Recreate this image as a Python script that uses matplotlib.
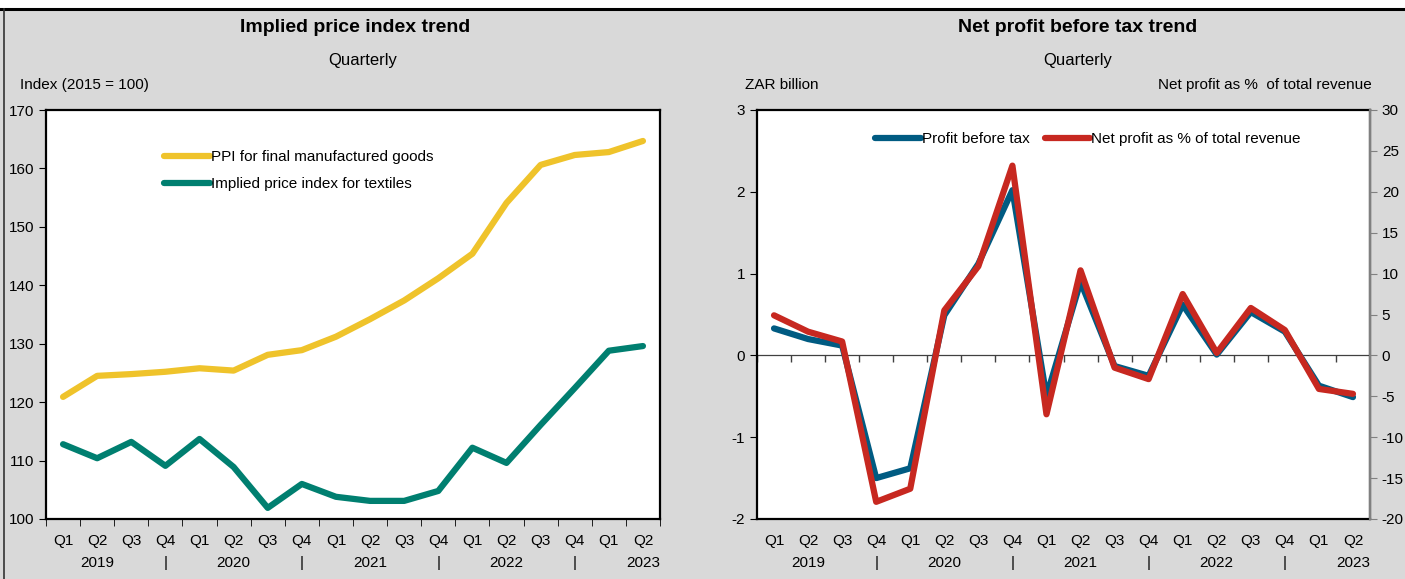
import matplotlib
matplotlib.use("Agg")
import matplotlib.pyplot as plt
import matplotlib.transforms as mtransforms
from matplotlib.lines import Line2D
import numpy as np

plt.rcParams['font.family'] = ['Liberation Sans Narrow', 'Liberation Sans', 'DejaVu Sans']
plt.rcParams['axes.unicode_minus'] = False

# data
quarters = ["Q1", "Q2", "Q3", "Q4"] * 4 + ["Q1", "Q2"]
years = ["2019", "2020", "2021", "2022", "2023"]

ppi = [120.9, 124.5, 124.8, 125.2, 125.8, 125.4, 128.1, 128.9, 131.2,
       134.2, 137.4, 141.2, 145.4, 154.1, 160.6, 162.3, 162.8, 164.7]
textiles = [112.8, 110.4, 113.2, 109.1, 113.7, 108.9, 101.9, 106.0, 103.8,
            103.1, 103.1, 104.8, 112.2, 109.6, 116.1, 122.4, 128.8, 129.6]

profit = [0.33, 0.20, 0.12, -1.50, -1.38, 0.49, 1.12, 2.02, -0.50,
          0.90, -0.13, -0.25, 0.62, 0.01, 0.53, 0.29, -0.37, -0.51]
margin = [4.9, 2.9, 1.7, -17.9, -16.3, 5.5, 10.9, 23.2, -7.2,
          10.4, -1.5, -2.9, 7.5, 0.3, 5.8, 3.1, -4.1, -4.7]

BG = "#D9D9D9"
YELLOW = "#EFC32B"
TEAL = "#007F70"
BLUE = "#005B82"
RED = "#C72820"

W, H = 1405, 579
fig = plt.figure(figsize=(W / 100, H / 100), dpi=100, facecolor=BG)

# white strip + frame lines
fig.patches.append(plt.Rectangle((0, 1 - 8 / H), 1, 8 / H, transform=fig.transFigure,
                                 facecolor="white", edgecolor="none", zorder=0))
fig.lines.append(Line2D([0, 1], [1 - 8.5 / H, 1 - 8.5 / H], transform=fig.transFigure,
                        color="black", lw=2.2))
fig.lines.append(Line2D([3.5 / W, 3.5 / W], [0, 1 - 8.5 / H], transform=fig.transFigure,
                        color="#333333", lw=1.2))

x = np.arange(len(quarters))
bounds = np.arange(len(quarters) + 1) - 0.5
line_kw = dict(lw=4.5, solid_capstyle="round", solid_joinstyle="round")


def px_axes(l, r, t, b):
    return [l / W, 1 - b / H, (r - l) / W, (b - t) / H]


def quarter_axis(ax):
    ax.set_xlim(-0.5, len(quarters) - 0.5)
    ax.set_xticks(x)
    ax.set_xticklabels(quarters, fontsize=11)
    ax.tick_params(axis="x", which="major", length=0, pad=11)
    trans = mtransforms.blended_transform_factory(ax.transData, ax.transAxes)
    for i, yr in enumerate(years):
        ax.text(4 * i + 1, -0.09, yr, transform=trans, ha="center", va="top", fontsize=11)
        if i < len(years) - 1:
            ax.text(4 * i + 3, -0.09, "|", transform=trans, ha="center", va="top", fontsize=11)


# ---- left chart
ax1 = fig.add_axes(px_axes(46, 660, 110, 519))
ax1.set_facecolor("white")
ax1.plot(x, ppi, color=YELLOW, label="PPI for final manufactured goods", **line_kw)
ax1.plot(x, textiles, color=TEAL, label="Implied price index for textiles", **line_kw)
ax1.set_ylim(100, 170)
ax1.set_yticks(range(100, 171, 10))
ax1.tick_params(axis="y", labelsize=11, length=5, direction="out")
quarter_axis(ax1)
ax1.set_xticks(bounds, minor=True)
ax1.tick_params(axis="x", which="minor", length=5, direction="out")
for s in ax1.spines.values():
    s.set_linewidth(1.6)
    s.set_color("black")
ax1.legend(loc="upper left", bbox_to_anchor=(0.17, 0.935), frameon=False, fontsize=11,
           handlelength=3.0, handletextpad=0.05, labelspacing=0.85)

fig.text(355 / W, 1 - 27 / H, "Implied price index trend", ha="center", va="center",
         fontsize=14, fontweight="bold")
fig.text(363 / W, 1 - 60 / H, "Quarterly", ha="center", va="center", fontsize=12)
fig.text(20 / W, 1 - 85 / H, "Index (2015 = 100)", ha="left", va="center", fontsize=11)

# ---- right chart
ax2 = fig.add_axes(px_axes(757, 1370, 110, 519))
ax2.set_facecolor("white")
ax2.axhline(0, color="#404040", lw=0.9, zorder=1)
ax2.plot(bounds, np.zeros(len(bounds)), ls="none", marker=3, ms=5, mew=1, color="#404040")
ax2.plot(x, profit, color=BLUE, label="Profit before tax", **line_kw)
ax2.set_ylim(-2, 3)
ax2.set_yticks(range(-2, 4))
ax2.tick_params(axis="y", labelsize=11, length=5, direction="out")
quarter_axis(ax2)
for s in ax2.spines.values():
    s.set_linewidth(1.6)
    s.set_color("black")

ax3 = ax2.twinx()
ax3.plot(x, margin, color=RED, label="Net profit as % of total revenue", **line_kw)
ax3.set_ylim(-20, 30)
ax3.set_yticks(range(-20, 31, 5))
ax3.tick_params(axis="y", labelsize=11, length=5, direction="out", color="#808080")
ax3.spines["right"].set_color("#808080")
ax3.spines["right"].set_linewidth(1.6)
for k in ("top", "left", "bottom"):
    ax3.spines[k].set_visible(False)

h2, l2 = ax2.get_legend_handles_labels()
h3, l3 = ax3.get_legend_handles_labels()
ax3.legend(h2 + h3, l2 + l3, loc="upper left", bbox_to_anchor=(0.17, 0.98), ncol=2,
           frameon=False, fontsize=11, handlelength=3.0, handletextpad=0.05, columnspacing=1.0)

fig.text(1078 / W, 1 - 27 / H, "Net profit before tax trend", ha="center", va="center",
         fontsize=14, fontweight="bold")
fig.text(1078 / W, 1 - 60 / H, "Quarterly", ha="center", va="center", fontsize=12)
fig.text(745 / W, 1 - 85 / H, "ZAR billion", ha="left", va="center", fontsize=11)
fig.text(1372 / W, 1 - 85 / H, "Net profit as %  of total revenue", ha="right", va="center",
         fontsize=11)

fig.savefig("out.png", dpi=100, facecolor=BG)
